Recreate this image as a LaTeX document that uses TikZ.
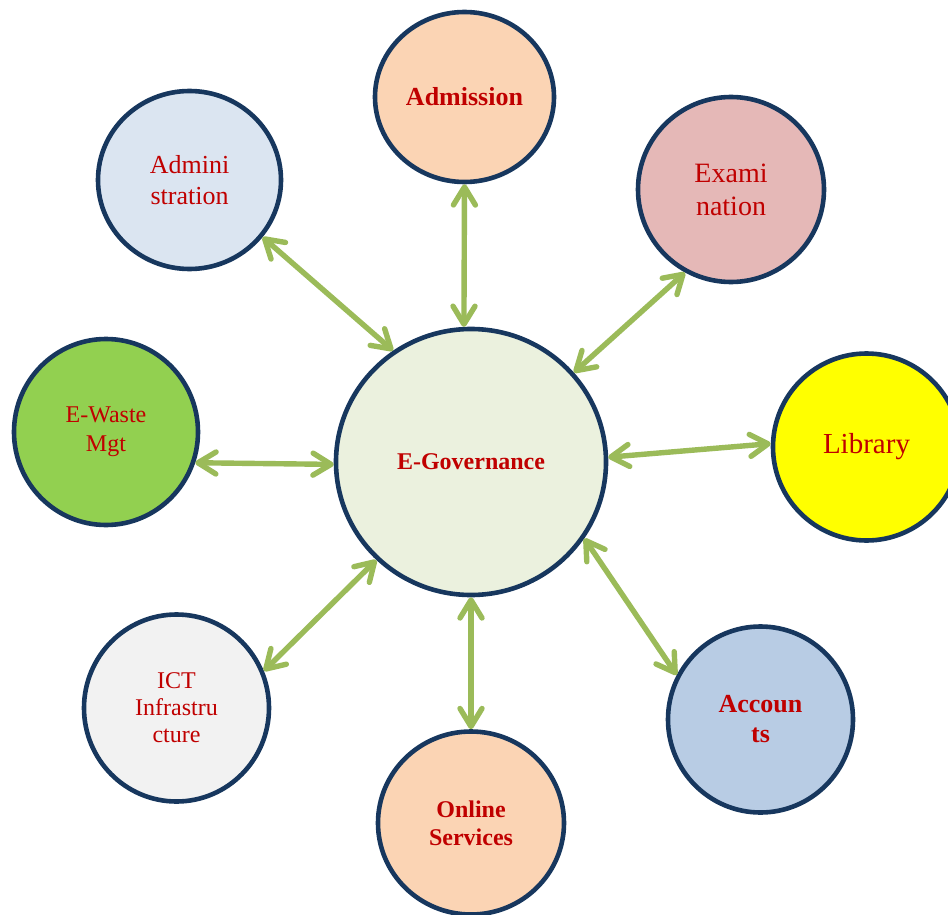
\documentclass[tikz,border=0pt]{standalone}
\usepackage{fontspec}
\setmainfont{Liberation Serif}
\usetikzlibrary{arrows.meta,shapes.geometric}
\definecolor{rimblue}{HTML}{17375E}
\definecolor{labelred}{HTML}{C00000}
\definecolor{linkgreen}{HTML}{9BBB59}
\definecolor{peach}{HTML}{FBD4B4}
\definecolor{paleblue}{HTML}{DBE5F1}
\definecolor{rose}{HTML}{E5B8B7}
\definecolor{leaf}{HTML}{92D050}
\definecolor{lightgrey}{HTML}{F2F2F2}
\definecolor{steel}{HTML}{B8CCE4}
\definecolor{sage}{HTML}{EBF1DE}
\definecolor{lemon}{HTML}{FFFF00}

\begin{document}
\begin{tikzpicture}[x=0.5pt,y=-0.5pt,
	unit/.style={ellipse, draw=rimblue, line width=2.3pt, inner sep=0pt, align=center, text=labelred},
	link/.style={draw=linkgreen, line width=2.7pt, line cap=round, <->,
		>={Straight Barb[length=9pt,width=11pt,round]}}]
		\useasboundingbox (0,0) rectangle (948,915);
		% hub
		\node[unit, fill=sage, minimum width=135pt, minimum height=133pt,
			font=\fontsize{12}{14}\selectfont\bfseries] (egov) at (471,462) {E-Governance};
		% satellites
		\node[unit, fill=peach, minimum width=89.5pt, minimum height=85pt,
			font=\fontsize{13}{15.5}\selectfont\bfseries] (adm) at (464.5,97) {Admission};
		\node[unit, fill=paleblue, minimum width=91.5pt, minimum height=89pt,
			font=\fontsize{13}{15.5}\selectfont] (admin) at (189.5,180) {Admini\\stration};
		\node[unit, fill=rose, minimum width=93pt, minimum height=92.5pt,
			font=\fontsize{14}{16.5}\selectfont] (exam) at (731,189.5) {Exami\\nation};
		\node[unit, fill=lemon, minimum width=93.5pt, minimum height=93.5pt,
			font=\fontsize{14.5}{17}\selectfont] (lib) at (866.5,447) {Library};
		\node[unit, fill=leaf, minimum width=92pt, minimum height=93pt,
			font=\fontsize{12}{14.5}\selectfont] (ewaste) at (106,432) {E-Waste\\Mgt};
		\node[unit, fill=lightgrey, minimum width=92.5pt, minimum height=93.5pt,
			font=\fontsize{12}{13.5}\selectfont] (ict) at (176.5,708) {ICT\\Infrastru\\cture};
		\node[unit, fill=peach, minimum width=93pt, minimum height=91.5pt,
			font=\fontsize{12}{14}\selectfont\bfseries] (online) at (471,823) {Online\\Services};
		\node[unit, fill=steel, minimum width=92.5pt, minimum height=93pt,
			font=\fontsize{13}{15}\selectfont\bfseries] (acc) at (760.5,719.5) {Accoun\\ts};
		% links
		\draw[link] (egov.93) -- (adm.270);
		\draw[link] (egov.125) -- (admin.322);
		\draw[link] (egov.41) -- (exam.241);
		\draw[link] (egov.2.5) -- (lib.178.5);
		\draw[link] (egov.181) -- (ewaste.341);
		\draw[link] (egov.226) -- (ict.23);
		\draw[link] (egov.270) -- (online.90);
		\draw[link] (egov.326) -- (acc.152);
	\end{tikzpicture}
\end{document}
